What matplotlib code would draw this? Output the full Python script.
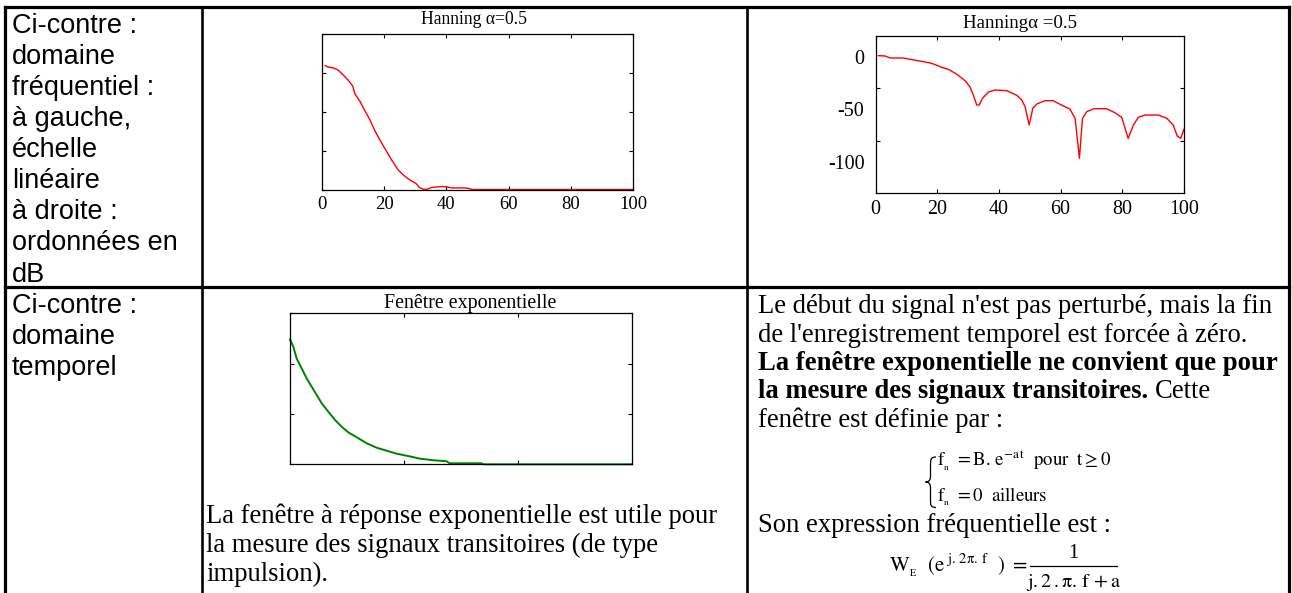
import matplotlib
matplotlib.use("Agg")
import matplotlib.pyplot as plt
from matplotlib.lines import Line2D
from matplotlib.path import Path
from matplotlib.patches import PathPatch

# --- données ---
# spectre Hanning, échelle linéaire (amplitude normalisée)
lin_f = [1.0, 2.0, 3.6, 5.2, 6.9, 8.5, 9.9, 10.6, 12.2, 13.8, 15.4, 17.0, 18.6,
         20.3, 22.4, 24.5, 26.2, 28.3, 30.2, 31.5, 32.6, 33.6, 35.3, 38.5, 40.1,
         41.7, 46.3, 48.5, 60, 80, 100]
lin_amp = [0.795, 0.785, 0.78, 0.765, 0.733, 0.699, 0.662, 0.613, 0.565, 0.505,
           0.447, 0.376, 0.318, 0.26, 0.189, 0.125, 0.092, 0.06, 0.039, 0.01,
           0.002, 0.0, 0.013, 0.019, 0.017, 0.01, 0.01, 0.0, 0.0, 0.0, 0.0]

# spectre Hanning en dB
db_f = [0.9, 3.1, 4.7, 9.0, 12.3, 15.0, 18.2, 21.5, 23.6, 26.3, 29.0, 30.6, 31.7,
        32.8, 33.6, 34.7, 36.6, 38.7, 42.5, 45.8, 47.4, 48.5, 49.8, 51.0, 52.3,
        54.9, 57.6, 60.3, 63.0, 64.7, 66.1, 67.1, 68.5, 70.8, 74.9, 77.6, 79.8,
        81.9, 83.6, 85.2, 87.4, 91.7, 94.4, 96.5, 97.8, 98.9, 100]
db_val = [1.0, 0.7, -1.2, -1.2, -3.1, -4.4, -6.3, -10.1, -12, -16.5, -22.8, -28.5,
          -36.4, -46, -46, -39.6, -33.6, -31.7, -32.3, -36.7, -41.2, -47.6, -65,
          -49.1, -45, -41.9, -41.9, -46, -49.8, -58.6, -96.7, -58.6, -52.3, -49.5,
          -49.5, -53.3, -57.7, -77.7, -65, -57.7, -55.5, -55.5, -58.6, -65, -75.5,
          -77.7, -69]

# fenêtre exponentielle (domaine temporel)
exp_t = [0, 2.9, 5.8, 10.2, 14.6, 19.0, 23.4, 27.8, 33.6, 39.5, 45.3, 51.1, 58.5,
         67.3, 76.0, 84.8, 93.6, 102.4, 114, 125.7, 137.4, 140, 168, 170, 300]
exp_amp = [0.993, 0.935, 0.842, 0.763, 0.683, 0.617, 0.551, 0.485, 0.418, 0.352,
           0.299, 0.254, 0.215, 0.167, 0.132, 0.108, 0.084, 0.068, 0.045, 0.032,
           0.024, 0.008, 0.008, 0.0, 0.0]

freq_ticks = [0, 20, 40, 60, 80, 100]
db_ticks = [-100, -50, 0]

# --- textes ---
cell_freq = ["Ci-contre :", "domaine", "fréquentiel :", "à gauche,", "échelle",
             "linéaire", "à droite :", "ordonnées en", "dB"]
cell_temp = ["Ci-contre :", "domaine", "temporel"]
mid_text = ["La fenêtre à réponse exponentielle est utile pour",
            "la mesure des signaux transitoires (de type",
            "impulsion)."]
right_l1 = "Le début du signal n'est pas perturbé, mais la fin"
right_l2 = "de l'enregistrement temporel est forcée à zéro."
right_bold1 = "La fenêtre exponentielle ne convient que pour"
right_bold2 = "la mesure des signaux transitoires."
right_after = "Cette"
right_l5 = "fenêtre est définie par :"
right_l6 = "Son expression fréquentielle est :"

W, H = 1292, 593
SERIF = "Liberation Serif"
SANS = "Liberation Sans"
plt.rcParams["mathtext.fontset"] = "stix"
plt.rcParams["axes.unicode_minus"] = False

fig = plt.figure(figsize=(W / 100, H / 100), dpi=100, facecolor="white")


def fx(x):
    return x / W


def fy(y):
    return 1 - y / H


def hline(x0, x1, y, lw=2.0):
    fig.add_artist(Line2D([fx(x0), fx(x1)], [fy(y), fy(y)], transform=fig.transFigure,
                          color="black", lw=lw, solid_capstyle="projecting"))


def vline(x, y0, y1, lw=1.9):
    fig.add_artist(Line2D([fx(x), fx(x)], [fy(y0), fy(y1)], transform=fig.transFigure,
                          color="black", lw=lw, solid_capstyle="projecting"))


def txt(x, y, s, size=19.2, family=SERIF, **kw):
    return fig.text(fx(x), fy(y), s, fontsize=size, family=family, va="baseline", **kw)


# grille du tableau
hline(5, 1289, 7, lw=2.3)
hline(5, 1289, 287, lw=2.3)
vline(5, 7, 593, lw=2.3)
vline(1289, 7, 593, lw=2.3)
vline(202, 7, 593)
vline(747, 7, 593)


def style_axes(ax, size):
    for sp in ax.spines.values():
        sp.set_linewidth(0.9)
    ax.tick_params(direction="in", length=3, width=0.8, top=True, right=True,
                   labelsize=size, pad=5)
    for lab in ax.get_xticklabels() + ax.get_yticklabels():
        lab.set_family(SERIF)


# Hanning, échelle linéaire
ax1 = fig.add_axes([fx(322), fy(189.5), (633 - 322) / W, (189.5 - 33.5) / H])
ax1.plot(lin_f, lin_amp, color="#ff0000", lw=1.0, clip_on=False)
ax1.set_xlim(0, 100)
ax1.set_ylim(0, 1)
ax1.set_xticks(freq_ticks)
ax1.set_yticks([0, 0.25, 0.5, 0.75, 1])
ax1.set_yticklabels([])
style_axes(ax1, 13.4)
ax1.set_title("Hanning α=0.5", family=SERIF, fontsize=12.7, pad=6.5, x=0.489)

# Hanning, ordonnées en dB
ax2 = fig.add_axes([fx(875.5), fy(193.3), (1184 - 875.5) / W, (193.3 - 35.7) / H])
ax2.plot(db_f, db_val, color="#ff0000", lw=1.0)
ax2.set_xlim(0, 100)
ax2.set_ylim(-130, 20)
ax2.set_xticks(freq_ticks)
ax2.set_yticks(db_ticks)
ax2.set_yticks([-80, -30], minor=True)
style_axes(ax2, 14.4)
ax2.tick_params(axis="y", which="major", length=0, pad=8)
ax2.tick_params(axis="y", which="minor", direction="in", length=3, width=0.8,
                left=True, right=True)
ax2.set_title("Hanningα =0.5", family=SERIF, fontsize=13.6, pad=5.3, x=0.467)

# fenêtre exponentielle
ax3 = fig.add_axes([fx(290), fy(464.3), (632 - 290) / W, (464.3 - 313.3) / H])
ax3.plot(exp_t, exp_amp, color="#008000", lw=1.4, clip_on=False)
ax3.set_xlim(0, 300)
ax3.set_ylim(0, 1.2)
ax3.set_xticks([0, 100, 200, 300])
ax3.set_yticks([0, 0.4, 0.8, 1.2])
ax3.set_xticklabels([])
ax3.set_yticklabels([])
style_axes(ax3, 12)
ax3.set_title("Fenêtre exponentielle", family=SERIF, fontsize=14.4, pad=4, x=0.528)

# colonne de gauche
for i, line in enumerate(cell_freq):
    txt(12, 32.7 + 31.1 * i, line, size=19.5, family=SANS)
for i, line in enumerate(cell_temp):
    txt(12, 313 + 31 * i, line, size=19.5, family=SANS)

# texte sous la fenêtre exponentielle
for i, line in enumerate(mid_text):
    txt(206, 523 + 29 * i, line)

# colonne de droite
txt(758, 313.3, right_l1)
txt(758, 341.7, right_l2)
txt(758, 370, right_bold1, weight="bold")
b = txt(758, 398, right_bold2, weight="bold")
fig.canvas.draw()
bb = b.get_window_extent()
txt(bb.x1 + 6.5, 398, right_after)
txt(758, 426.7, right_l5)

# système définissant la fenêtre
brace = Path([(fx(936), fy(457)), (fx(930.5), fy(457)), (fx(930.5), fy(460)), (fx(930.5), fy(466)),
              (fx(930.5), fy(476)),
              (fx(930.5), fy(480)), (fx(929), fy(482)), (fx(925.5), fy(482)),
              (fx(929), fy(482)), (fx(930.5), fy(484)), (fx(930.5), fy(488)),
              (fx(930.5), fy(499)),
              (fx(930.5), fy(505)), (fx(930.5), fy(507.5)), (fx(936), fy(507.5))],
             [Path.MOVETO, Path.CURVE4, Path.CURVE4, Path.CURVE4, Path.LINETO,
              Path.CURVE4, Path.CURVE4, Path.CURVE4, Path.CURVE4, Path.CURVE4, Path.CURVE4,
              Path.LINETO, Path.CURVE4, Path.CURVE4, Path.CURVE4])
fig.add_artist(PathPatch(brace, transform=fig.transFigure, fill=False, lw=0.9,
                         edgecolor="black"))
txt(937, 466.5, r"$\mathrm{f_{_n}\ = B.\,e^{-a\,t}\ \ pour\ \ t \geq 0}$", size=13.5)
txt(937, 501.5, r"$\mathrm{f_{_n}\ = 0\ \ ailleurs}$", size=13.5)

txt(758, 532, right_l6)

# expression fréquentielle
txt(1027, 572, r"$\mathrm{W_{_E}\ \ (e^{\ j.\,2\pi.\,f}\ \ )\ =}$", size=15, ha="right")
txt(1073, 558, "1", size=14.5, ha="center")
fig.add_artist(Line2D([fx(1030), fx(1117)], [fy(566), fy(566)], transform=fig.transFigure,
                      color="black", lw=0.9))
txt(1073.5, 587, r"$\mathrm{j.2\,.\pi.\,f\,+a}$", size=14.5, ha="center")

fig.savefig("out.png", dpi=100)
